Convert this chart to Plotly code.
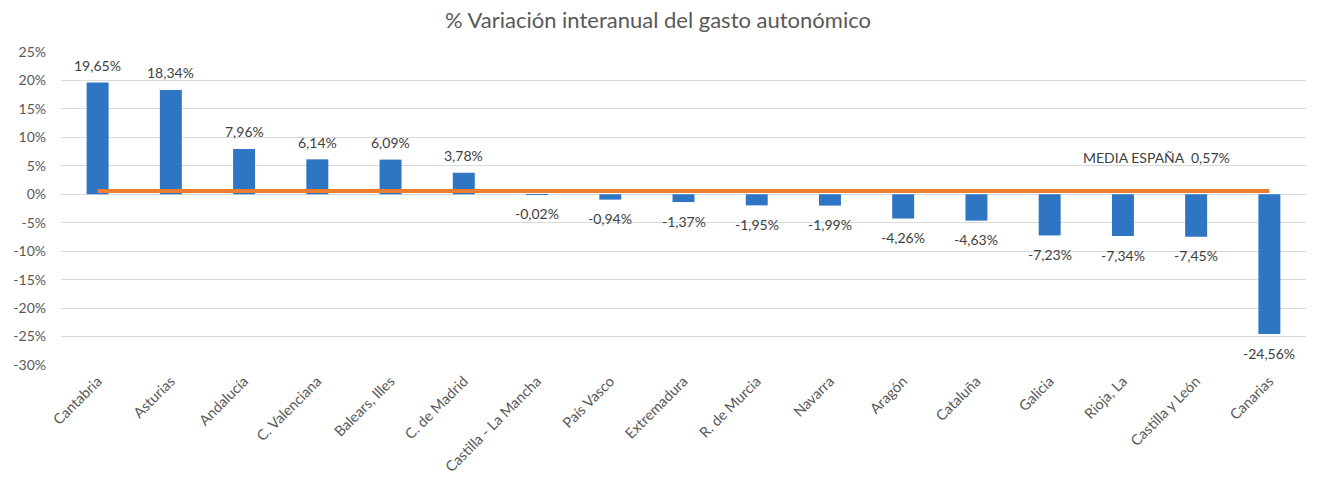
import plotly.graph_objects as go

categories = ["Cantabria", "Asturias", "Andalucía", "C. Valenciana", "Balears, Illes",
              "C. de Madrid", "Castilla - La Mancha", "País Vasco", "Extremadura",
              "R. de Murcia", "Navarra", "Aragón", "Cataluña", "Galicia", "Rioja, La",
              "Castilla y León", "Canarias"]
variation = [19.65, 18.34, 7.96, 6.14, 6.09, 3.78, -0.02, -0.94, -1.37, -1.95, -1.99,
             -4.26, -4.63, -7.23, -7.34, -7.45, -24.56]
media_espana = 0.57
tick_vals = [25, 20, 15, 10, 5, 0, -5, -10, -15, -20, -25, -30]
tick_text = [f"{v}%" for v in tick_vals]

labels = [f"{v:.2f}".replace(".", ",") + "%" for v in variation]

FONT = "Lato"
GREY = "#595959"

fig = go.Figure()
fig.add_trace(go.Bar(
    x=categories, y=variation, width=0.3,
    marker=dict(color="#2E75C4", line=dict(width=0)),
))
fig.add_trace(go.Scatter(
    x=categories, y=[media_espana] * len(categories), mode="lines",
    line=dict(color="#ED7D31", width=4),
))
for cat, val, lab in zip(categories, variation, labels):
    fig.add_annotation(
        x=cat, y=val, yshift=17 if val >= 0 else -19, text=lab, showarrow=False,
        xanchor="center", yanchor="middle",
        font=dict(family=FONT, size=14, color="#404040"),
    )
fig.add_annotation(
    x=categories[14], y=media_espana, yshift=34, xshift=34,
    text=f"MEDIA ESPAÑA  {media_espana:.2f}".replace(".", ",") + "%",
    showarrow=False, font=dict(family=FONT, size=14, color="#404040"),
)

fig.update_layout(
    width=1325, height=485,
    margin=dict(l=61, r=19, t=52, b=120),
    paper_bgcolor="white", plot_bgcolor="white",
    showlegend=False,
    title=dict(text="% Variación interanual del gasto autonómico",
               x=0.4966, xref="container", xanchor="center", y=0.9588, yref="container",
               yanchor="middle", automargin=False,
               font=dict(family=FONT, size=22, color=GREY)),
    font=dict(family=FONT, color=GREY),
    xaxis=dict(tickangle=-45, tickfont=dict(size=14.5, color=GREY), showline=False,
               showgrid=False, ticks="", automargin=False, ticklabelstandoff=4),
    yaxis=dict(range=[-30, 25], tickvals=tick_vals, ticktext=tick_text,
               tickfont=dict(size=14, color=GREY), gridcolor="#D9D9D9",
               gridwidth=1, zeroline=True, zerolinecolor="#D9D9D9", zerolinewidth=1,
               showline=False, ticks="", ticklabelstandoff=14, automargin=False),
    bargap=0.7,
)

fig.write_html("out.html", config={"displayModeBar": False},
               post_script="document.body.style.margin='0';")
